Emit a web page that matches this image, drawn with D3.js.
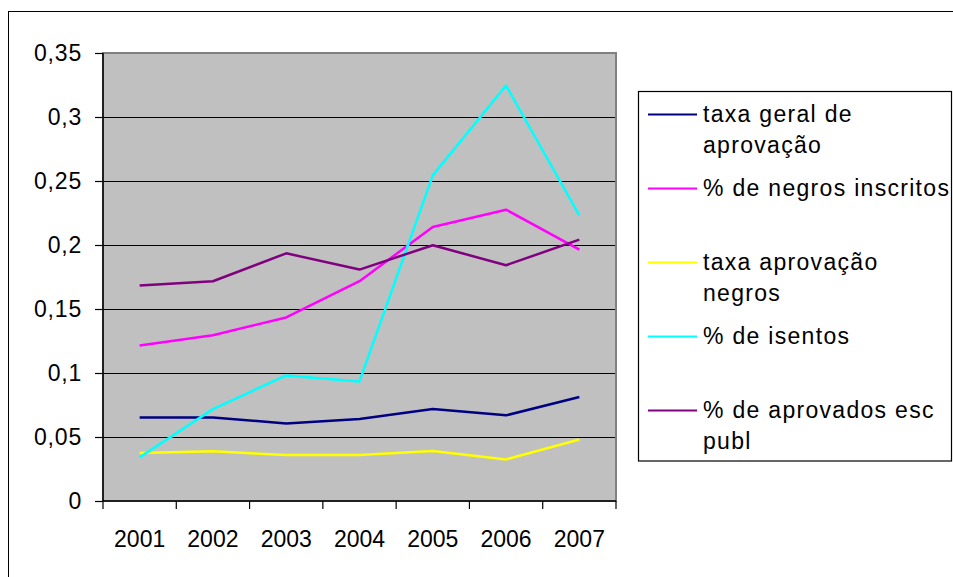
<!DOCTYPE html>
<html>
<head>
<meta charset="utf-8">
<script src="https://cdn.jsdelivr.net/npm/d3@7"></script>
<style>
  html, body { margin: 0; padding: 0; background: #fff; }
  svg { display: block; font-family: "Liberation Sans", Arial, sans-serif; }
</style>
</head>
<body>
<svg id="chart" width="953" height="577"></svg>
<script>
const years = ["2001", "2002", "2003", "2004", "2005", "2006", "2007"];
const yTicks = [0, 0.05, 0.1, 0.15, 0.2, 0.25, 0.3, 0.35];

const taxaGeral = [0.0653, 0.0653, 0.0606, 0.0640, 0.0718, 0.0669, 0.0812];
const negrosInscritos = [0.1215, 0.1295, 0.1434, 0.1717, 0.2141, 0.2276, 0.1964];
const aprovacaoNegros = [0.0375, 0.0388, 0.0359, 0.0359, 0.0390, 0.0325, 0.0481];
const isentos = [0.0341, 0.0718, 0.0981, 0.0934, 0.2544, 0.3246, 0.2232];
const escPubl = [0.1683, 0.1717, 0.1935, 0.1808, 0.1998, 0.1842, 0.2042];

const seriesNames = [["taxa geral de", "aprovação"], ["% de negros inscritos"],
  ["taxa aprovação", "negros"], ["% de isentos"], ["% de aprovados esc", "publ"]];
const seriesColors = ["#000080", "#FF00FF", "#FFFF00", "#00FFFF", "#800080"];
const seriesValues = [taxaGeral, negrosInscritos, aprovacaoNegros, isentos, escPubl];

const series = seriesValues.map((values, i) => ({ name: seriesNames[i], color: seriesColors[i], values }));

const svg = d3.select("#chart");
const plot = { left: 103, right: 616, top: 53, bottom: 501 };

// outer chart border (runs off the right and bottom of the picture)
svg.append("rect").attr("x", 8.5).attr("y", 11.5).attr("width", 1000).attr("height", 700)
  .attr("fill", "none").attr("stroke", "#000").attr("stroke-width", 1);

const x = d3.scaleBand().domain(years).range([plot.left, plot.right]);
const y = d3.scaleLinear().domain([0, 0.35]).range([plot.bottom, plot.top]);

// plot area
svg.append("rect").attr("x", plot.left).attr("y", plot.top)
  .attr("width", plot.right - plot.left).attr("height", plot.bottom - plot.top)
  .attr("fill", "#C0C0C0").attr("stroke", "#808080").attr("stroke-width", 2);

// gridlines
svg.append("g").selectAll("line").data(yTicks.filter(d => d > 0 && d < 0.35)).join("line")
  .attr("x1", plot.left).attr("x2", plot.right - 1)
  .attr("y1", d => Math.round(y(d)) + 0.5).attr("y2", d => Math.round(y(d)) + 0.5)
  .attr("stroke", "#000").attr("stroke-width", 1.2);

// y axis
const yAxis = svg.append("g").attr("transform", `translate(${plot.left},0)`)
  .call(d3.axisLeft(y).tickValues(yTicks).tickSize(8).tickPadding(13)
    .tickFormat(d => d3.format(".2~f")(d).replace(".", ",")));
yAxis.select(".domain").attr("stroke", "#000").attr("stroke-width", 1.5).attr("d", `M0,${plot.top}V${plot.bottom}`);
yAxis.selectAll(".tick line").attr("stroke", "#000").attr("stroke-width", 1.2);
yAxis.selectAll(".tick text").attr("font-size", 23).attr("fill", "#000")
  .attr("font-family", "'Liberation Sans', Arial, sans-serif").attr("letter-spacing", 0.8);

// x axis, ticks between categories
const xAxis = svg.append("g").attr("transform", `translate(0,${plot.bottom})`);
xAxis.append("line").attr("x1", plot.left).attr("x2", plot.right).attr("y1", 0).attr("y2", 0)
  .attr("stroke", "#000").attr("stroke-width", 1.5);
xAxis.selectAll("line.tk").data(years.concat(["end"])).join("line").attr("class", "tk")
  .attr("x1", (d, i) => plot.left + i * x.step()).attr("x2", (d, i) => plot.left + i * x.step())
  .attr("y1", 0).attr("y2", 8).attr("stroke", "#000").attr("stroke-width", 1.2);
xAxis.selectAll("text").data(years).join("text")
  .attr("x", d => x(d) + x.bandwidth() / 2).attr("y", 46)
  .attr("text-anchor", "middle").attr("font-size", 23).attr("fill", "#000").text(d => d);

// series lines
const line = d3.line().x((d, i) => x(years[i]) + x.bandwidth() / 2).y(d => y(d));
svg.append("g").selectAll("path").data(series).join("path")
  .attr("d", d => line(d.values)).attr("fill", "none")
  .attr("stroke", d => d.color).attr("stroke-width", 2.5).attr("stroke-linejoin", "round");

// legend
const legend = svg.append("g");
legend.append("rect").attr("x", 638.5).attr("y", 91.5).attr("width", 313).attr("height", 369.5)
  .attr("fill", "#fff").attr("stroke", "#000").attr("stroke-width", 1.2);
const entry = legend.selectAll("g.entry").data(series).join("g").attr("class", "entry")
  .attr("transform", (d, i) => `translate(648,${114.5 + i * 74})`);
entry.append("line").attr("x1", 0).attr("x2", 49).attr("y1", 0).attr("y2", 0)
  .attr("stroke", d => d.color).attr("stroke-width", 2);
entry.append("text").attr("x", 55).attr("y", 7.5).attr("font-size", 23).attr("letter-spacing", 1.3)
  .attr("fill", "#000")
  .selectAll("tspan").data(d => d.name).join("tspan")
  .attr("x", 55).attr("dy", (d, i) => i === 0 ? 0 : 30.5).text(d => d);
</script>
</body>
</html>
